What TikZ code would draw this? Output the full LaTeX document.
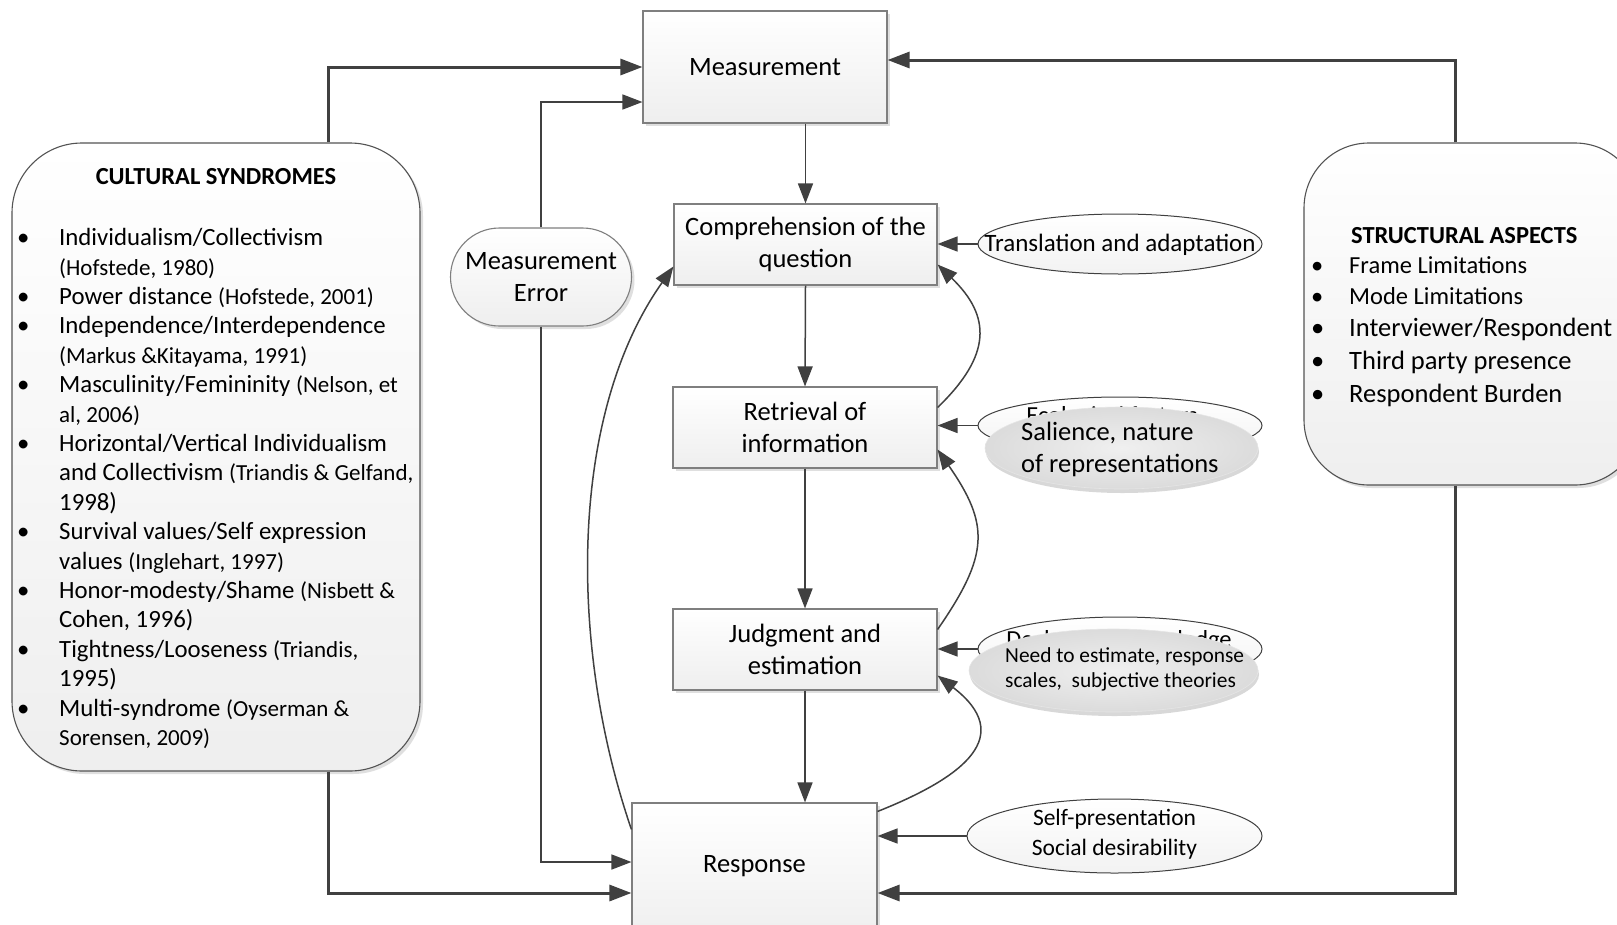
\documentclass[tikz,border=0pt]{standalone}
\usepackage{fontspec}
\setmainfont{Carlito}
\usetikzlibrary{arrows.meta,shapes.geometric,shadows,calc}
\definecolor{ln}{HTML}{404040}
\definecolor{bd}{HTML}{7F7F7F}
\frenchspacing
\newcommand\ct[1]{{\fontsize{23}{29.4}\selectfont #1}}
\newcommand\bitem[1]{\par\noindent\spaceskip=0pt\xspaceskip=0pt\hangindent=42pt\hangafter=1\makebox[42pt][l]{\textbullet}#1}
\tikzset{
  shd/.style={drop shadow={shadow xshift=3pt,shadow yshift=-3pt,opacity=0.25,fill=gray}},
  stepbox/.style={rectangle, draw=bd, line width=1.1pt, top color=white, bottom color=gray!13, shd, inner sep=0pt, align=center, font=\fontsize{26.5}{32}\selectfont},
  bigbox/.style={rectangle, draw=ln!90, line width=1.1pt, top color=white, bottom color=gray!13, shd, rounded corners=70pt},
  ellback/.style={ellipse, draw=ln, line width=1pt, top color=white, bottom color=gray!10, inner sep=0pt},
  ellfront/.style={ellipse, draw=gray!20, line width=0.6pt, inner color=gray!12, outer color=gray!28, drop shadow={shadow xshift=1pt,shadow yshift=-4pt,opacity=0.3,fill=gray}, inner sep=0pt},
  thinarr/.style={draw=ln, line width=1.5pt, -{Triangle[length=20pt,width=15pt]}},
  thickarr/.style={draw=ln, line width=3pt, -{Triangle[length=22pt,width=16pt]}},
  txt/.style={inner sep=0pt, align=center},
}
\begin{document}
\begin{tikzpicture}[x=1pt,y=-1pt]
\useasboundingbox (0,0) rectangle (1617,924);
\fill[white] (0,0) rectangle (1617,924);
\clip (0,0) rectangle (1617,924);

% big side boxes
\node[bigbox, minimum width=408pt, minimum height=628pt] (cs) at (216,457) {};
\node[bigbox, rounded corners=65pt, minimum width=336pt, minimum height=342pt] (sa) at (1472,314) {};

\node[txt, font=\bfseries\fontsize{24.5}{29}\selectfont] (cstitle) at (216,177) {CULTURAL SYNDROMES};
\node[anchor=north west, text width=410pt, inner sep=0pt, align=left, font=\fontsize{24.8}{29.4}\selectfont] (cslist) at (17,216) {%
\bitem{Individualism/Collectivism\newline \ct{(Hofstede, 1980)}}%
\bitem{Power distance \ct{(Hofstede, 2001)}}%
\bitem{Independence/Interdependence\newline \ct{(Markus \&Kitayama, 1991)}}%
\bitem{Masculinity/Femininity \ct{(Nelson, et\newline al, 2006)}}%
\bitem{Horizontal/Vertical Individualism\newline and Collectivism \ct{(Triandis \& Gelfand,}\newline 1998)}%
\bitem{Survival values/Self expression\newline values \ct{(Inglehart, 1997)}}%
\bitem{Honor-modesty/Shame \ct{(Nisbett \&}\newline Cohen, 1996)}%
\bitem{Tightness/Looseness \ct{(Triandis,}\newline 1995)}%
\bitem{Multi-syndrome \ct{(Oyserman \&\newline Sorensen, 2009)}}\par};

\node[anchor=base west, inner sep=0pt, font=\bfseries\fontsize{24.5}{29}\selectfont] (satitle) at (1351,243) {STRUCTURAL ASPECTS};
\node[anchor=base west, inner sep=0pt, font=\fontsize{24.5}{30}\selectfont] (sa1) at (1311,273) {\makebox[38pt][l]{\textbullet}Frame Limitations};
\node[anchor=base west, inner sep=0pt, font=\fontsize{24.5}{30}\selectfont] (sa2) at (1311,304) {\makebox[38pt][l]{\textbullet}Mode Limitations};
\node[anchor=base west, inner sep=0pt, font=\fontsize{26.5}{30}\selectfont] (sa3) at (1311,336) {\makebox[38pt][l]{\textbullet}Interviewer/Respondent};
\node[anchor=base west, inner sep=0pt, font=\fontsize{26.5}{30}\selectfont] (sa4) at (1311,369) {\makebox[38pt][l]{\textbullet}Third party presence};
\node[anchor=base west, inner sep=0pt, font=\fontsize{26.5}{30}\selectfont] (sa5) at (1311,402) {\makebox[38pt][l]{\textbullet}Respondent Burden};

% central boxes
\node[stepbox, minimum width=244pt, minimum height=112pt] (meas) at (765,67) {Measurement};
\node[stepbox, minimum width=263pt, minimum height=81pt] (comp) at (805.5,244.5) {Comprehension of the\\question};
\node[stepbox, minimum width=264pt, minimum height=81pt] (retr) at (805,427.5) {Retrieval of\\information};
\node[stepbox, minimum width=264pt, minimum height=81pt] (judg) at (805,649.5) {Judgment and\\estimation};
\node[stepbox, minimum width=245pt, minimum height=137pt] (resp) at (754.5,871.5) {};
\node[txt, font=\fontsize{26.5}{32}\selectfont] (resptext) at (754.5,866) {Response};
\node[stepbox, rounded corners=49pt, minimum width=181pt, minimum height=98pt] (merr) at (541,277) {Measurement\\Error};

% ellipses
\node[ellback, minimum width=284pt, minimum height=60pt] (trans) at (1120,244) {};
\node[txt, font=\fontsize{25}{30}\selectfont] (transtext) at (1120,245) {Translation and adaptation};

\node[ellback, minimum width=284pt, minimum height=57pt] (eco) at (1120,425.5) {};
\node[txt, font=\fontsize{24.5}{30}\selectfont] (ecotext) at (1112,417) {Ecological factors};
\node[ellfront, minimum width=273pt, minimum height=82pt] (sal) at (1121.5,448) {};
\node[anchor=west, inner sep=0pt, align=left, font=\fontsize{26.5}{32}\selectfont] (saltext) at (1021,449) {Salience, nature\\of representations};

\node[ellback, minimum width=284pt, minimum height=64pt] (decl) at (1120,649) {};
\node[txt, font=\fontsize{24.5}{30}\selectfont] (decltext) at (1119,641) {Declarative knowledge};
\node[ellfront, minimum width=289pt, minimum height=83pt] (need) at (1113.5,670.5) {};
\node[anchor=west, inner sep=0pt, align=left, font=\fontsize{21.4}{25}\selectfont] (needtext) at (1005,669) {Need to estimate, response\\scales,\ \ subjective theories};

\node[ellback, minimum width=295pt, minimum height=74pt] (self) at (1114.5,836) {};
\node[txt, font=\fontsize{23.5}{30}\selectfont] (selftext) at (1114.5,834) {Self-presentation\\Social desirability};

% connectors
\draw[thickarr] ([xshift=112pt]cs.north) |- (meas.west);
\draw[thickarr] ([xshift=112pt]cs.south) |- ([yshift=-21.5pt]resp.west);
\draw[thickarr] ([xshift=-17pt]sa.north) |- ([yshift=7pt]meas.east);
\draw[thickarr] ([xshift=-17pt]sa.south) |- ([yshift=-21.5pt]resp.east);
\draw[thinarr] (merr.north) |- ([yshift=-35pt]meas.west);
\draw[thinarr] (merr.south) |- ([yshift=9.5pt]resp.west);

\draw[thinarr] (comp.north |- meas.south) -- (comp.north);
\draw[thinarr] (comp.south) -- (retr.north);
\draw[thinarr] (retr.south) -- (judg.north);
\draw[thinarr] (judg.south) -- (judg.south |- resp.north);

\draw[thinarr] (trans.west) -- (trans.west -| comp.east);
\draw[thinarr] (eco.west) -- (eco.west -| retr.east);
\draw[thinarr] (decl.west) -- (decl.west -| judg.east);
\draw[thinarr] (self.west) -- (self.west -| resp.east);

\draw[thinarr] ($(retr.east)+(0,-20)$) .. controls +(54,-52) and +(54,52) .. ($(comp.east)+(0,20)$);
\draw[thinarr] ($(judg.east)+(0,-20)$) .. controls +(52,-75) and +(52,75) .. ($(retr.east)+(0,22)$);
\draw[thinarr] ($(resp.north east)+(0,9)$) .. controls +(88,-35) and +(78,60) .. ($(judg.east)+(0,26)$);
\draw[thinarr] ($(resp.north west)+(0,27)$) .. controls +(-62,-180) and +(-106,150) .. ($(comp.west)+(0,22)$);
\end{tikzpicture}
\end{document}
